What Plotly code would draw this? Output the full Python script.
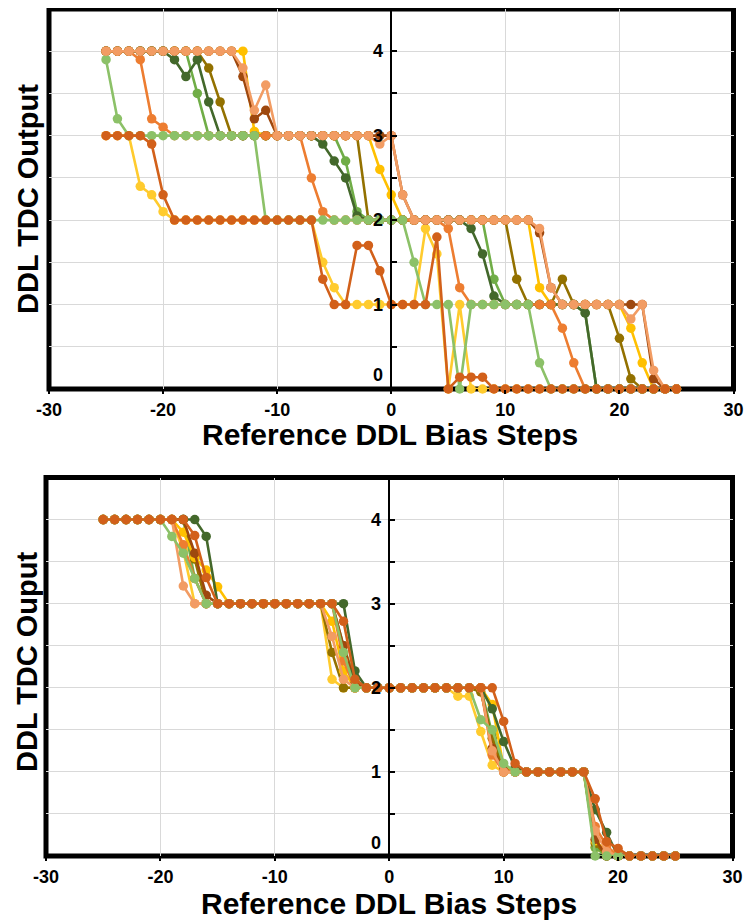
import plotly.graph_objects as go

# ---------------- data ----------------
x_steps = list(range(-25, 26))

# Top panel (DDL TDC Output) -- values for x = -25 .. 25
top_lightgreen = [3.9, 3.2, 3, 3, 3, 3, 3, 3, 3, 3,
                  3, 3, 3, 3, 2, 2, 2, 2, 2, 2,
                  2, 2, 2, 2, 2, 2, 2, 1.5, 1, 1,
                  1, 0, 1, 1, 1, 1, 1, 1, 0.31, 0,
                  0, 0, 0, 0, 0, 0, 0, 0, 0, 0, 0]
top_green = [4, 4, 4, 4, 4, 4, 4, 4, 3.5, 3,
             3, 3, 3, 3, 3, 3, 3, 3, 3, 3,
             3, 2.7, 2.1, 2, 2, 2, 2, 2, 2, 2,
             2, 2, 2, 2, 1.3, 1, 1, 1, 1, 1,
             1, 1, 0.9, 0, 0, 0, 0, 0, 0, 0, 0]
top_darkgreen = [4, 4, 4, 4, 4, 4, 3.9, 3.7, 3.9, 3.4,
                 3, 3, 3, 3, 3, 3, 3, 3, 3, 2.9,
                 2.7, 2.5, 2.05, 2, 2, 2, 2, 2, 2, 2,
                 2, 2, 1.9, 1.6, 1.1, 1, 1, 1, 1, 1,
                 1, 1, 0.9, 0, 0, 0, 0, 0, 0, 0, 0]
top_olive = [4, 4, 4, 4, 4, 4, 4, 4, 4, 3.8,
             3.4, 3, 3, 3, 3, 3, 3, 3, 3, 3,
             3, 3, 3, 2, 2, 2, 2, 2, 2, 2,
             2, 2, 2, 2, 2, 2, 1.3, 1, 1, 1,
             1.3, 1, 1, 1, 1, 0.6, 0.12, 0, 0, 0, 0]
top_gold = [4, 4, 4, 4, 4, 4, 4, 4, 4, 4,
            4, 4, 4, 3.05, 3, 3, 3, 3, 3, 3,
            3, 3, 3, 3, 2.6, 2.3, 2, 2, 2, 2,
            2, 2, 2, 2, 2, 2, 2, 2, 1.2, 1,
            1, 1, 1, 1, 1, 1, 0.72, 0.31, 0, 0, 0]
top_brown = [4, 4, 4, 4, 4, 4, 4, 4, 4, 4,
             4, 4, 3.7, 3.2, 3.3, 3, 3, 3, 3, 3,
             3, 3, 3, 3, 3, 3, 2.3, 2, 2, 2,
             2, 2, 2, 2, 2, 2, 2, 2, 1.85, 1.2,
             1, 1, 1, 1, 1, 1, 1, 1, 0.12, 0, 0]
top_salmon = [4, 4, 4, 4, 4, 4, 4, 4, 4, 4,
              4, 4, 3.8, 3.3, 3.6, 3, 3, 3, 3, 3,
              3, 3, 3, 3, 2.9, 3, 2.3, 2, 2, 2,
              2, 2, 2, 2, 2, 2, 2, 2, 1.9, 1.2,
              1, 1, 1, 1, 1, 1, 0.83, 1, 0.22, 0, 0]
top_orange = [4, 4, 4, 3.9, 3.2, 3.1, 3, 3, 3, 3,
              3, 3, 3, 3, 3, 3, 3, 3, 2.5, 2.1,
              2, 2, 2, 2, 2, 2, 2, 2, 2, 2,
              1.9, 1.2, 1, 1, 1, 1, 1, 1, 1, 1,
              0.72, 0.31, 0, 0, 0, 0, 0, 0, 0, 0, 0]
top_darkorange = [3, 3, 3, 3, 2.9, 2.3, 2, 2, 2, 2,
                  2, 2, 2, 2, 2, 2, 2, 2, 2, 1.3,
                  1, 1, 1.7, 1.7, 1.4, 1, 1, 1, 1, 1.8,
                  0, 0.14, 0.14, 0.14, 0, 0, 0, 0, 0, 0,
                  0, 0, 0, 0, 0, 0, 0, 0, 0, 0, 0]
top_gold2 = [3, 3, 3, 2.4, 2.3, 2.1, 2, 2, 2, 2,
             2, 2, 2, 2, 2, 2, 2, 2, 2, 1.5,
             1.2, 1, 1, 1, 1, 1, 1, 1, 1.9, 1.6,
             0, 1, 0, 0, 0, 0, 0, 0, 0, 0,
             0, 0, 0, 0, 0, 0, 0, 0, 0, 0, 0]

# Bottom panel (DDL TDC Ouput) -- values for x = -25 .. 25
bot_lightgreen = [4, 4, 4, 4, 4, 4, 3.8, 3.6, 3.3, 3,
                  3, 3, 3, 3, 3, 3, 3, 3, 3, 3,
                  3, 2.42, 2, 2, 2, 2, 2, 2, 2, 2,
                  2, 2, 2, 1.62, 1.5, 1.1, 1, 1, 1, 1,
                  1, 1, 1, 0, 0, 0, 0, 0, 0, 0, 0]
bot_green = [4, 4, 4, 4, 4, 4, 4, 4, 3.3, 3,
             3, 3, 3, 3, 3, 3, 3, 3, 3, 3,
             3, 2.5, 2.1, 2, 2, 2, 2, 2, 2, 2,
             2, 2, 2, 2, 1.45, 1.05, 1, 1, 1, 1,
             1, 1, 1, 0.1, 0, 0, 0, 0, 0, 0, 0]
bot_darkgreen = [4, 4, 4, 4, 4, 4, 4, 4, 4, 3.8,
                 3, 3, 3, 3, 3, 3, 3, 3, 3, 3,
                 3, 3, 2.2, 2, 2, 2, 2, 2, 2, 2,
                 2, 2, 2, 2, 1.75, 1.36, 1.05, 1, 1, 1,
                 1, 1, 1, 0.55, 0.28, 0, 0, 0, 0, 0, 0]
bot_olive = [4, 4, 4, 4, 4, 4, 4, 4, 3.53, 3,
             3, 3, 3, 3, 3, 3, 3, 3, 3, 3,
             2.42, 2, 2, 2, 2, 2, 2, 2, 2, 2,
             2, 2, 2, 1.95, 1.4, 1, 1, 1, 1, 1,
             1, 1, 1, 0.15, 0, 0, 0, 0, 0, 0, 0]
bot_gold = [4, 4, 4, 4, 4, 4, 4, 3.85, 3.55, 3.4,
            3.2, 3, 3, 3, 3, 3, 3, 3, 3, 3,
            2.79, 2.2, 2, 2, 2, 2, 2, 2, 2, 2,
            2, 2, 2, 2, 1.8, 1.05, 1, 1, 1, 1,
            1, 1, 1, 0.18, 0.05, 0, 0, 0, 0, 0, 0]
bot_gold2 = [4, 4, 4, 4, 4, 4, 4, 3.63, 3, 3,
             3, 3, 3, 3, 3, 3, 3, 3, 3, 3,
             2.1, 2, 2, 2, 2, 2, 2, 2, 2, 2,
             2, 1.9, 1.9, 1.48, 1.08, 1, 1, 1, 1, 1,
             1, 1, 1, 0.1, 0, 0, 0, 0, 0, 0, 0]
bot_orange = [4, 4, 4, 4, 4, 4, 4, 3.7, 3.3, 3,
              3, 3, 3, 3, 3, 3, 3, 3, 3, 3,
              3, 2.32, 2, 2, 2, 2, 2, 2, 2, 2,
              2, 2, 2, 2, 1.2, 1, 1, 1, 1, 1,
              1, 1, 1, 0.35, 0.12, 0, 0, 0, 0, 0, 0]
bot_salmon = [4, 4, 4, 4, 4, 4, 4, 3.21, 3, 3,
              3, 3, 3, 3, 3, 3, 3, 3, 3, 3,
              2.61, 2.1, 2, 2, 2, 2, 2, 2, 2, 2,
              2, 2, 2, 2, 1.25, 1, 1, 1, 1, 1,
              1, 1, 1, 0.3, 0.05, 0, 0, 0, 0, 0, 0]
bot_brown = [4, 4, 4, 4, 4, 4, 4, 4, 3.6, 3.1,
             3, 3, 3, 3, 3, 3, 3, 3, 3, 3,
             3, 2.5, 2.05, 2, 2, 2, 2, 2, 2, 2,
             2, 2, 2, 2, 1.28, 1.02, 1, 1, 1, 1,
             1, 1, 1, 0.2, 0, 0, 0, 0, 0, 0, 0]
bot_darkorange = [4, 4, 4, 4, 4, 4, 4, 4, 3.81, 3.31,
                  3, 3, 3, 3, 3, 3, 3, 3, 3, 3,
                  3, 2.79, 2.1, 2, 2, 2, 2, 2, 2, 2,
                  2, 2, 2, 2, 2, 1.6, 1.1, 1, 1, 1,
                  1, 1, 1, 0.68, 0.17, 0.09, 0, 0, 0, 0, 0]

x_tick_vals = [-30, -20, -10, 0, 10, 20, 30]
x_grid_vals = [-20, -10, 10, 20]
y_grid_vals = [0.5, 1, 1.5, 2, 2.5, 3, 3.5, 4]
y_tick_marks = [0.5, 1, 1.5, 2, 2.5, 3, 3.5, 4]
y_tick_labels = ["1", "2", "3", "4"]
x_title = "Reference DDL Bias Steps"
y_title_top = "DDL TDC Output"
y_title_bottom = "DDL TDC Ouput"

# ---------------- styling ----------------
COL = {
    "lightgreen": "#8CC168",
    "green": "#70AD47",
    "darkgreen": "#43682B",
    "olive": "#937100",
    "gold": "#FFC000",
    "gold2": "#FFCB2E",
    "orange": "#ED7D31",
    "salmon": "#F29C63",
    "brown": "#9E480E",
    "darkorange": "#D2601A",
}

top_series = [
    ("gold2", top_gold2), ("green", top_green), ("olive", top_olive),
    ("gold", top_gold), ("brown", top_brown), ("darkgreen", top_darkgreen),
    ("orange", top_orange), ("lightgreen", top_lightgreen),
    ("salmon", top_salmon), ("darkorange", top_darkorange),
]
bot_series = [
    ("gold2", bot_gold2), ("green", bot_green), ("olive", bot_olive),
    ("gold", bot_gold), ("brown", bot_brown), ("darkgreen", bot_darkgreen),
    ("orange", bot_orange), ("salmon", bot_salmon),
    ("lightgreen", bot_lightgreen), ("darkorange", bot_darkorange),
]

# the page body has an 8px margin, so the figure is 8px smaller and offset
OFF = 8
W, H = 754 - OFF, 922 - OFF
FONT = "Arial, Liberation Sans, sans-serif"
BOLD18 = dict(family=FONT, size=18, color="black", weight="bold")

fig = go.Figure()
for name, vals in top_series:
    fig.add_trace(go.Scatter(x=x_steps, y=vals, mode="lines+markers",
                             line=dict(color=COL[name], width=2.6),
                             marker=dict(color=COL[name], size=9.5),
                             cliponaxis=False, showlegend=False,
                             xaxis="x", yaxis="y"))
for name, vals in bot_series:
    fig.add_trace(go.Scatter(x=x_steps, y=vals, mode="lines+markers",
                             line=dict(color=COL[name], width=2.6),
                             marker=dict(color=COL[name], size=9.5),
                             cliponaxis=False, showlegend=False,
                             xaxis="x2", yaxis="y2"))

def px_x(p):
    return (p - OFF) / W

def px_y(p):
    return 1 - (p - OFF) / H

top_dom_x = [px_x(49), px_x(733.5)]
top_dom_y = [px_y(389), px_y(9)]
bot_dom_x = [px_x(46), px_x(732.5)]
bot_dom_y = [px_y(856), px_y(477.5)]

def xaxis_cfg(dom, anchor):
    return dict(domain=dom, anchor=anchor, range=[-30, 30], automargin=False,
                tickvals=x_tick_vals, ticktext=[str(v) for v in x_tick_vals],
                tickfont=BOLD18,
                ticks="outside", ticklen=4, tickwidth=1.5, tickcolor="black",
                showgrid=False,
                minor=dict(tickvals=x_grid_vals, showgrid=True,
                           gridcolor="#D9D9D9", gridwidth=1.3, ticks=""),
                zeroline=False, showline=False)

def yaxis_cfg(dom, pos):
    return dict(domain=dom, anchor="free", position=pos, range=[0, 4.5],
                automargin=False,
                tickvals=y_tick_marks, ticktext=["" for _ in y_tick_marks],
                ticks="inside", ticklen=5, tickwidth=1.5, tickcolor="black",
                showgrid=False,
                minor=dict(tickvals=y_grid_vals, showgrid=True,
                           gridcolor="#D9D9D9", gridwidth=1.3, ticks=""),
                zeroline=False, showline=True, linecolor="black", linewidth=1.5)

top_zero_pos = (top_dom_x[0] + top_dom_x[1]) / 2
bot_zero_pos = (bot_dom_x[0] + bot_dom_x[1]) / 2

annotations = []
for xr, yr in (("x", "y"), ("x2", "y2")):
    for i, lab in enumerate(y_tick_labels):
        annotations.append(dict(x=0, y=i + 1, xref=xr, yref=yr, text=lab,
                                showarrow=False, xanchor="right", yanchor="middle",
                                xshift=-6, font=BOLD18))
    annotations.append(dict(x=0, y=0.16, xref=xr, yref=yr, text="0",
                            showarrow=False, xanchor="right", yanchor="middle",
                            xshift=-6, font=BOLD18))

annotations += [
    dict(x=px_x(390), y=px_y(434), xref="paper", yref="paper", text=x_title,
         showarrow=False, xanchor="center", yanchor="middle",
         font=dict(family=FONT, size=30, color="black", weight="bold")),
    dict(x=px_x(389), y=px_y(903), xref="paper", yref="paper", text=x_title,
         showarrow=False, xanchor="center", yanchor="middle",
         font=dict(family=FONT, size=30, color="black", weight="bold")),
    dict(x=px_x(28), y=px_y(199), xref="paper", yref="paper", text=y_title_top,
         showarrow=False, xanchor="center", yanchor="middle", textangle=-90,
         font=dict(family=FONT, size=29, color="black", weight="bold")),
    dict(x=px_x(27), y=px_y(662), xref="paper", yref="paper", text=y_title_bottom,
         showarrow=False, xanchor="center", yanchor="middle", textangle=-90,
         font=dict(family=FONT, size=29, color="black", weight="bold")),
]

shapes = [
    dict(type="rect", xref="paper", yref="paper",
         x0=top_dom_x[0], x1=top_dom_x[1], y0=top_dom_y[0], y1=top_dom_y[1],
         line=dict(color="black", width=5), layer="below"),
    dict(type="rect", xref="paper", yref="paper",
         x0=bot_dom_x[0], x1=bot_dom_x[1], y0=bot_dom_y[0], y1=bot_dom_y[1],
         line=dict(color="black", width=5), layer="below"),
]

fig.update_layout(
    width=W, height=H,
    margin=dict(l=0, r=0, t=0, b=0, autoexpand=False),
    paper_bgcolor="white", plot_bgcolor="rgba(0,0,0,0)",
    xaxis=xaxis_cfg(top_dom_x, "y"),
    yaxis=yaxis_cfg(top_dom_y, top_zero_pos),
    xaxis2=xaxis_cfg(bot_dom_x, "y2"),
    yaxis2=yaxis_cfg(bot_dom_y, bot_zero_pos),
    annotations=annotations,
    shapes=shapes,
    showlegend=False,
)

fig.write_html("out.html")
